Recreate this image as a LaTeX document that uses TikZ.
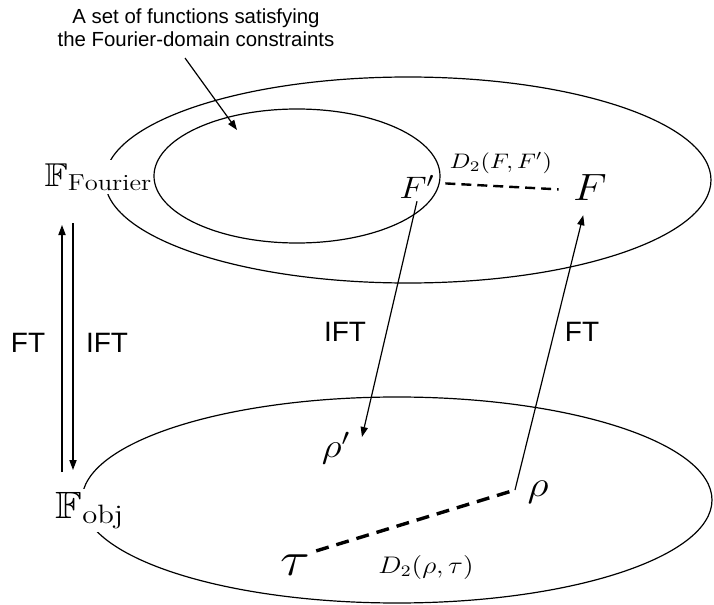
\RequirePackage{fix-cm}
\documentclass[tikz,border=0pt]{standalone}
\usepackage{amsmath,amssymb}
\usepackage{graphicx}
\usepackage{fontspec}
\setsansfont{Liberation Sans}
\usetikzlibrary{arrows.meta}
\newcommand\wm[1]{\scalebox{1.15}[1]{$#1$}}
\tikzset{
  >={Triangle[length=5pt,width=3.6pt]},
  set/.style={line width=0.6pt},
  lab/.style={inner sep=1pt},
  setlab/.style={fill=white,inner sep=1.5pt,anchor=base west},
  tr/.style={font=\sffamily\fontsize{14}{16}\selectfont,inner sep=1pt},
  note/.style={font=\sffamily\fontsize{10.2}{11.5}\selectfont,align=center,inner sep=1pt},
  dist/.style={line width=1.2pt,dash pattern=on 5pt off 3pt},
  distb/.style={line width=1.7pt,dash pattern=on 6.5pt off 4pt},
  every picture/.style={line width=0.6pt},
}
\begin{document}
\begin{tikzpicture}[x=0.5pt,y=-0.5pt]
\useasboundingbox (0,0) rectangle (714,605);
% the two spaces
\draw[set] (408,180) ellipse [x radius=303, y radius=103];
\draw[set] (397,500) ellipse [x radius=315, y radius=103];
\node[setlab] (Ffour) at (41,186){\fontsize{16.5}{18}\selectfont\wm{\mathbb{F}_{\mathrm{Fourier}}}};
\node[setlab] (Fobj) at (52,518){\fontsize{19}{21}\selectfont\wm{\mathbb{F}_{\mathrm{obj}}}};
\draw[set] (297,176) ellipse [x radius=143, y radius=67];
% annotation
\node[note] (setnote) at (196,28){A set of functions satisfying\\the Fourier-domain constraints};
\coordinate (notetail) at (185,58); \coordinate (setpt) at (237,130);
\draw[->] (notetail) -- (setpt);
% points
\node[lab] (Fp) at (417,187){\fontsize{15.5}{17}\selectfont\wm{F'}};
\node[lab] (F) at (590,188){\fontsize{19}{21}\selectfont\wm{F}};
\node[lab] (Dff) at (501,163){\fontsize{10.5}{12}\selectfont\wm{D_2(F,F')}};
\coordinate (r) at (515,490);
\node[lab] (rho) at (538,492){\fontsize{18}{20}\selectfont\wm{\rho}};
\coordinate (ifttip) at (362,437);
\node[lab] (rhop) at (336,448){\fontsize{17}{19}\selectfont\wm{\rho'}};
\node[lab] (tau) at (295,565){\fontsize{24}{26}\selectfont\wm{\tau}};
\node[lab] (Dpt) at (426,567){\fontsize{12}{14}\selectfont\wm{D_2(\rho,\tau)}};
\draw[dist,shorten <=4pt,shorten >=6pt] ([yshift=2pt]Fp.east) -- ([yshift=-1pt]F.west);
\draw[distb,shorten <=2pt] (tau.north east) -- (r);
\draw[->,shorten >=6pt] (r) -- (F);
\draw[->] (Fp.south) -- (ifttip);
\node[tr] (iftm) at (345,332){IFT};
\node[tr] (ftm) at (582,332){FT};
% transforms between the spaces
\coordinate (ftlo) at (62,472); \coordinate (fthi) at (62,225);
\coordinate (ifthi) at (73,223); \coordinate (iftlo) at (73,470);
\draw[->] (ftlo) -- (fthi);
\draw[->] (ifthi) -- (iftlo);
\node[tr] (ftl) at (28,343){FT};
\node[tr] (iftl) at (107,343){IFT};
\end{tikzpicture}
\end{document}
